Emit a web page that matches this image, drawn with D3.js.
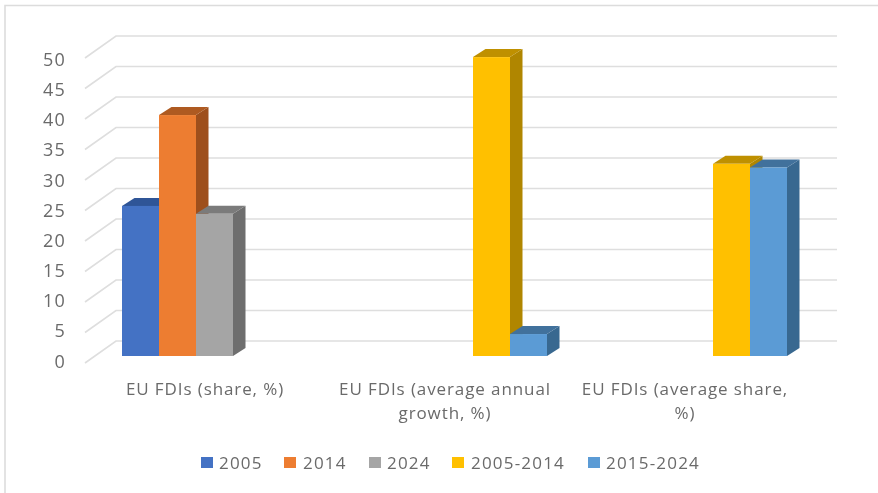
<!DOCTYPE html>
<html><head><meta charset="utf-8">
<script src="https://cdn.jsdelivr.net/npm/d3@7/dist/d3.min.js"></script>
<style>html,body{margin:0;padding:0;background:#fff}svg{display:block;filter:blur(0.45px)}text{font-family:"Open Sans",sans-serif;fill:#6a6a6a}</style>
</head><body><div id="c"></div>
<script>
const categories = [["EU FDIs (share, %)"],["EU FDIs (average annual","growth, %)"],["EU FDIs (average share,","%)"]];
const seriesNames = ["2005","2014","2024","2005-2014","2015-2024"];
const v2005 = [24.6,null,null];
const v2014 = [39.5,null,null];
const v2024 = [23.3,null,null];
const v0514 = [null,49,31.5];
const v1524 = [null,3.6,30.9];
const seriesValues = [v2005,v2014,v2024,v0514,v1524];
const front = ["#4472C4","#ED7D31","#A5A5A5","#FFC000","#5B9BD5"];
const topC = ["#2F5597","#AE5A21","#7B7B7B","#BF9000","#41719C"];
const side = ["#2F5597","#9E4F1C","#6E6E6E","#B08600","#386890"];
const yTicks = d3.range(0,51,5);

const W=878,H=493;
const svg=d3.select("#c").append("svg").attr("width",W).attr("height",H);
svg.append("path").attr("d",`M5,${H}L5,5.5L${W},5.5`).attr("fill","none").attr("stroke","#dcdcdc").attr("stroke-width",1.6);

const x=d3.scaleBand().domain(d3.range(3)).range([85,805]);
const xi=d3.scaleBand().domain(d3.range(5)).range([37,222]);
const y=d3.scaleLinear().domain([0,50]).range([356,51]);
const yLabel=d3.scaleLinear().domain([0,50]).range([367.5,66]);
const wallDx=31, wallDy=22, floorShift=7, dBar=12.5, dBarY=8;

const g=svg.append("g").attr("fill","none").attr("stroke","#dedede").attr("stroke-width",1.6);
yTicks.forEach(t=>{
  const yf=y(t)+floorShift;
  g.append("path").attr("d",`M85,${yf}L${85+wallDx},${yf-wallDy}L837,${yf-wallDy}`);
});
svg.append("g").selectAll("text").data(yTicks).join("text")
  .attr("x",66).attr("y",t=>yLabel(t)).attr("text-anchor","end").attr("font-size",18).attr("letter-spacing",1.2).text(d=>d);

const bars=svg.append("g");
d3.range(3).forEach(c=>{
  d3.range(5).forEach(s=>{
    const val=seriesValues[s][c];
    if(val==null) return;
    const x0=x(c)+xi(s), w=xi.bandwidth(), y0=y(val), yb=y(0);
    bars.append("path").attr("fill",side[s]).attr("d",`M${x0+w},${y0}L${x0+w+dBar},${y0-dBarY}L${x0+w+dBar},${yb-dBarY}L${x0+w},${yb}Z`);
    bars.append("path").attr("fill",topC[s]).attr("d",`M${x0},${y0}L${x0+dBar},${y0-dBarY}L${x0+w+dBar},${y0-dBarY}L${x0+w},${y0}Z`);
    bars.append("rect").attr("fill",front[s]).attr("x",x0).attr("y",y0).attr("width",w).attr("height",yb-y0);
  });
});

categories.forEach((lines,c)=>{
  lines.forEach((l,i)=>{
    svg.append("text").attr("x",x(c)+x.bandwidth()/2).attr("y",395+i*24).attr("text-anchor","middle").attr("font-size",17).attr("letter-spacing",0.9).text(l);
  });
});

const legX=[201,284,369,452,588];
const legT=[219,303,387,471,606];
const leg=svg.append("g");
seriesNames.forEach((n,i)=>{
  leg.append("rect").attr("x",legX[i]).attr("y",457).attr("width",12).attr("height",11).attr("fill",front[i]);
  leg.append("text").attr("x",legT[i]).attr("y",468.5).attr("font-size",17).attr("letter-spacing",1.2).text(n);
});
</script></body></html>
